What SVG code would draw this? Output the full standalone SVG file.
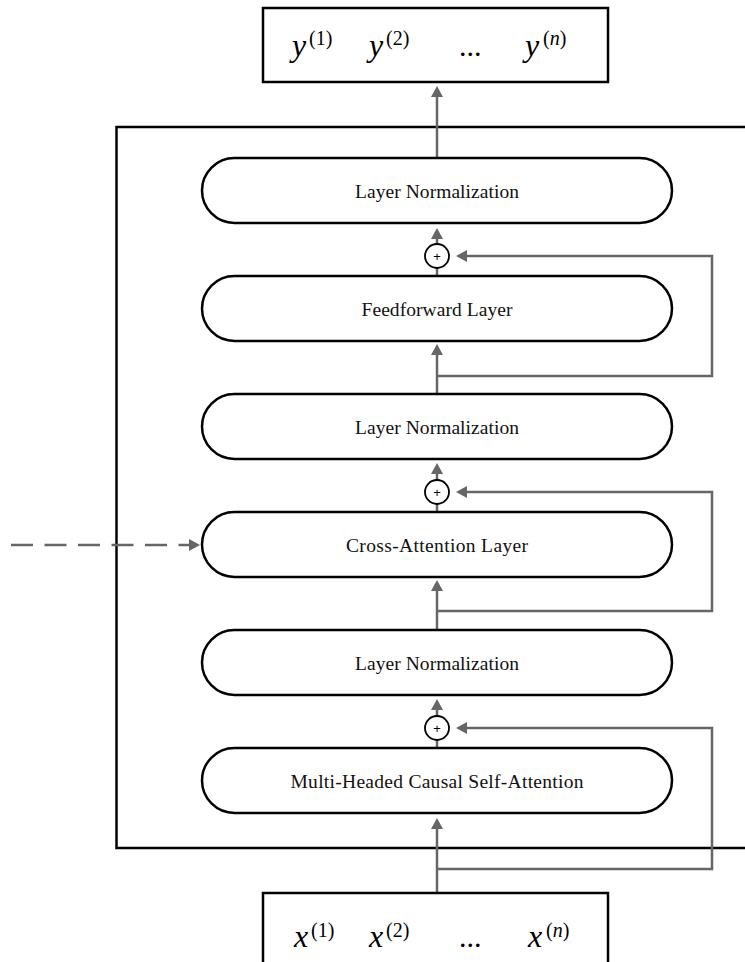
<svg xmlns="http://www.w3.org/2000/svg" width="745" height="962" viewBox="0 0 745 962">
  <style>
    .frame { fill: none; stroke: #000; stroke-width: 2.5; }
    .box { fill: #fff; stroke: #000; stroke-width: 2.5; }
    .pill { fill: #fff; stroke: #000; stroke-width: 2.5; }
    .label { font-family: "Liberation Serif", "Times New Roman", serif; font-size: 19.5px; fill: #111; text-anchor: middle; }
    .wire { fill: none; stroke: #666; stroke-width: 2.5; }
    .dashed { stroke-dasharray: 22 11.5; }
    .sum { fill: #fff; stroke: #000; stroke-width: 1.8; }
    .plus { font-family: "Liberation Sans", Arial, sans-serif; font-size: 13px; fill: #000; text-anchor: middle; }
    .math { font-family: "Liberation Serif", "Times New Roman", serif; font-size: 32px; font-style: italic; fill: #000; }
    .dots { font-family: "Liberation Serif", "Times New Roman", serif; font-size: 30px; fill: #000; }
    .sup { font-family: "Liberation Serif", "Times New Roman", serif; font-size: 20px; font-style: normal; fill: #000; }
    .supi { font-style: italic; }
  </style>
  <defs>
    <marker id="head" viewBox="0 0 11 12" refX="0" refY="6" markerWidth="11" markerHeight="12" markerUnits="userSpaceOnUse" orient="auto">
      <path d="M0,0 L11,6 L0,12 Z" fill="#666"/>
    </marker>
  </defs>

  <!-- decoder block frame (runs off the right edge) -->
  <rect class="frame" x="116.5" y="127" width="700" height="721"/>

  <!-- connectors -->
  <g id="connectors">
    <line class="wire" x1="437" y1="158" x2="437" y2="97" marker-end="url(#head)"/>
    <line class="wire" x1="437" y1="276" x2="437" y2="239" marker-end="url(#head)"/>
    <path class="wire" d="M437,376 H712 V256 H467" marker-end="url(#head)"/>
    <line class="wire" x1="437" y1="394" x2="437" y2="355" marker-end="url(#head)"/>
    <line class="wire" x1="437" y1="512" x2="437" y2="474" marker-end="url(#head)"/>
    <path class="wire" d="M437,611 H712 V492 H467" marker-end="url(#head)"/>
    <line class="wire" x1="437" y1="630" x2="437" y2="591" marker-end="url(#head)"/>
    <line class="wire" x1="437" y1="748" x2="437" y2="710" marker-end="url(#head)"/>
    <path class="wire" d="M437,869 H712 V728 H467" marker-end="url(#head)"/>
    <line class="wire" x1="437" y1="893" x2="437" y2="829" marker-end="url(#head)"/>
    <line class="wire dashed" x1="11" y1="545" x2="189" y2="545" marker-end="url(#head)"/>
  </g>

  <!-- output tokens -->
  <g id="outputs">
    <rect class="box" x="263" y="8" width="345" height="74"/>
    <text class="math" x="292" y="56">y<tspan class="sup" x="309" y="45">(1)</tspan></text>
    <text class="math" x="369" y="56">y<tspan class="sup" x="386" y="45">(2)</tspan></text>
    <text class="dots" x="459" y="56">...</text>
    <text class="math" x="525" y="56">y<tspan class="sup" x="543" y="45">(<tspan class="supi">n</tspan>)</tspan></text>
  </g>

  <g id="layer-norm-3">
    <rect class="pill" x="202" y="158" width="470" height="65" rx="32.5"/>
    <text class="label" x="437" y="198" textLength="164">Layer Normalization</text>
  </g>

  <g id="add-3">
    <circle class="sum" cx="437" cy="256" r="12"/>
    <text class="plus" x="437" y="261">+</text>
  </g>

  <g id="feedforward">
    <rect class="pill" x="202" y="276" width="470" height="65" rx="32.5"/>
    <text class="label" x="437" y="316" textLength="151">Feedforward Layer</text>
  </g>

  <g id="layer-norm-2">
    <rect class="pill" x="202" y="394" width="470" height="65" rx="32.5"/>
    <text class="label" x="437" y="434" textLength="164">Layer Normalization</text>
  </g>

  <g id="add-2">
    <circle class="sum" cx="437" cy="492" r="12"/>
    <text class="plus" x="437" y="497">+</text>
  </g>

  <g id="cross-attention">
    <rect class="pill" x="202" y="512" width="470" height="65" rx="32.5"/>
    <text class="label" x="437" y="552" textLength="182">Cross-Attention Layer</text>
  </g>

  <g id="layer-norm-1">
    <rect class="pill" x="202" y="630" width="470" height="65" rx="32.5"/>
    <text class="label" x="437" y="670" textLength="164">Layer Normalization</text>
  </g>

  <g id="add-1">
    <circle class="sum" cx="437" cy="728" r="12"/>
    <text class="plus" x="437" y="733">+</text>
  </g>

  <g id="self-attention">
    <rect class="pill" x="202" y="748" width="470" height="65" rx="32.5"/>
    <text class="label" x="437" y="788" textLength="293">Multi-Headed Causal Self-Attention</text>
  </g>

  <!-- input tokens (box runs off the bottom edge) -->
  <g id="inputs">
    <rect class="box" x="263" y="893" width="345" height="90"/>
    <text class="math" x="294" y="947">x<tspan class="sup" x="311" y="937">(1)</tspan></text>
    <text class="math" x="369" y="947">x<tspan class="sup" x="386" y="937">(2)</tspan></text>
    <text class="dots" x="459" y="947">...</text>
    <text class="math" x="528" y="947">x<tspan class="sup" x="546" y="937">(<tspan class="supi">n</tspan>)</tspan></text>
  </g>
</svg>
